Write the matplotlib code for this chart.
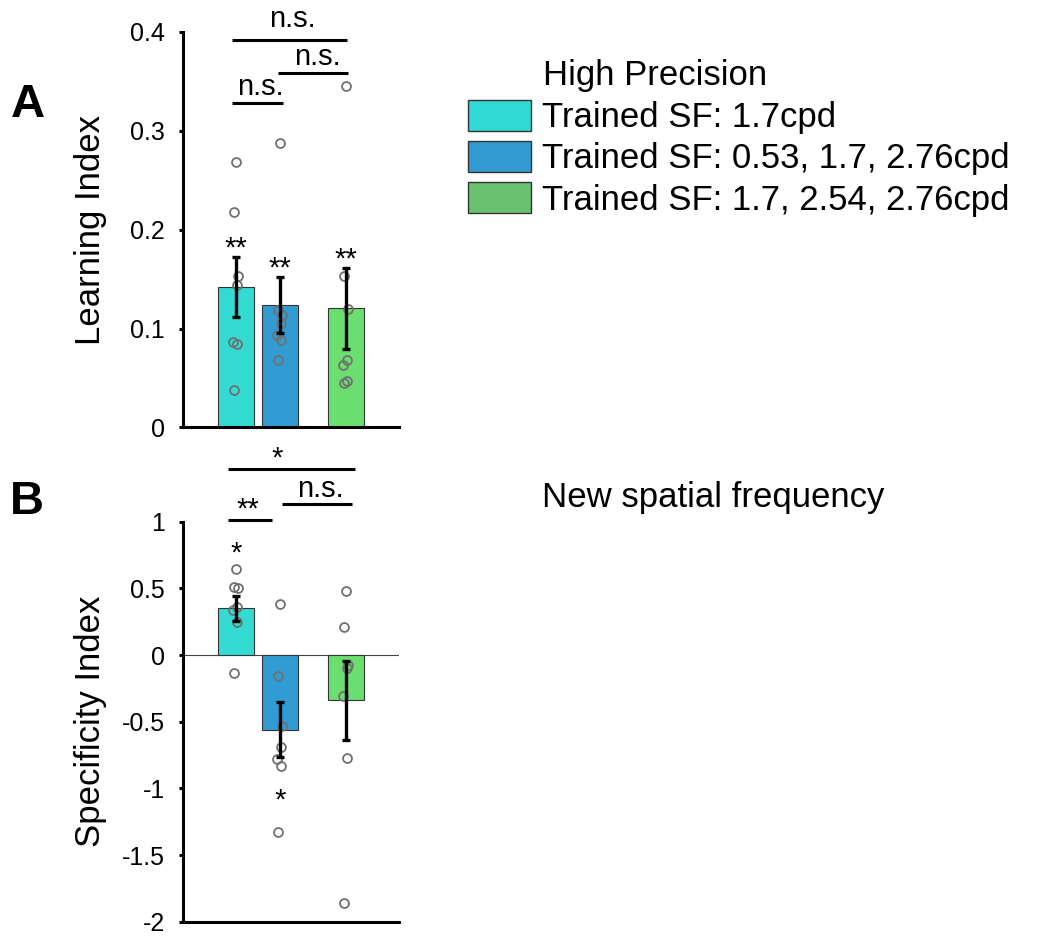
import matplotlib
matplotlib.use("Agg")
import matplotlib.pyplot as plt
from matplotlib.patches import Patch

plt.rcParams["font.family"] = ["Liberation Sans", "DejaVu Sans"]
plt.rcParams["axes.unicode_minus"] = False

# ---- data -------------------------------------------------------------
groups = ["Trained SF: 1.7cpd",
          "Trained SF: 0.53, 1.7, 2.76cpd",
          "Trained SF: 1.7, 2.54, 2.76cpd"]
bar_colors = ["#33dbd3", "#319cd3", "#6adf70"]
legend_colors = ["#30d9d3", "#3399d1", "#67c16f"]

# Learning index (panel A)
learn_mean = [0.142, 0.124, 0.1205]
learn_sem = [0.0305, 0.0283, 0.0408]
learn_pts = [
    [0.269, 0.2175, 0.1535, 0.1444, 0.0862, 0.0848, 0.0377],
    [0.288, 0.119, 0.114, 0.106, 0.094, 0.089, 0.068],
    [0.3458, 0.1535, 0.120, 0.0687, 0.0636, 0.0468, 0.0451],
]
learn_ticks = [0, 0.1, 0.2, 0.3, 0.4]
learn_ticklabels = ["0", "0.1", "0.2", "0.3", "0.4"]

# Specificity index (panel B)
spec_mean = [0.35, -0.56, -0.34]
spec_sem = [0.096, 0.205, 0.296]
spec_pts = [
    [0.645, 0.512, 0.505, 0.362, 0.34, 0.25, -0.137],
    [0.38, -0.155, -0.5325, -0.6925, -0.7825, -0.8325, -1.325],
    [0.48, 0.2125, -0.075, -0.095, -0.3075, -0.77, -1.8575],
]
spec_ticks = [-2, -1.5, -1, -0.5, 0, 0.5, 1]
spec_ticklabels = ["-2", "-1.5", "-1", "-0.5", "0", "0.5", "1"]

# ---- layout / style ---------------------------------------------------
W, H = 1048, 936
xpos = [1, 2, 3.5]
jitter = [0.0, -0.04, 0.04, 0.02, -0.06, 0.02, -0.04]
XLIM = (-0.2045, 4.705)
FS_TEXT = 25
FS_TICK = 18
FS_SIG = 21
FS_LETTER = 34
SPINE_LW = 2.2

fig = plt.figure(figsize=(W / 100, H / 100), dpi=100)
axA = fig.add_axes([183 / W, 1 - 427.5 / H, 216 / W, 395.5 / H])
axB = fig.add_axes([183 / W, 1 - 921.7 / H, 216 / W, 400 / H])


def style_axis(ax, ticks, labels, ylim):
    ax.set_xlim(*XLIM)
    ax.set_ylim(*ylim)
    for s in ("top", "right"):
        ax.spines[s].set_visible(False)
    for s in ("left", "bottom"):
        ax.spines[s].set_linewidth(SPINE_LW)
    ax.set_xticks([])
    ax.set_yticks(ticks)
    ax.set_yticklabels(labels)
    ax.tick_params(axis="y", direction="out", length=3, width=SPINE_LW,
                   labelsize=FS_TICK, pad=10)


def draw_panel(ax, means, sems, pts):
    ax.bar(xpos, means, width=0.8, color=bar_colors, edgecolor="#333333",
           linewidth=0.8, zorder=2)
    ax.errorbar(xpos, means, yerr=sems, fmt="none", ecolor="black",
                elinewidth=2.4, capsize=2.8, capthick=2.4, zorder=4)
    for x, vals in zip(xpos, pts):
        xs = [x + j for j in jitter[:len(vals)]]
        ax.plot(xs, vals, "o", ms=6.4, mfc="none", mec="#707070", mew=1.3,
                zorder=3)


def bracket(ax, x0, x1, y, label, tx, dy):
    ax.plot([x0, x1], [y, y], color="black", lw=2.2, clip_on=False,
            solid_capstyle="butt")
    ax.text(tx, y + dy, label, ha="center", va="baseline", fontsize=FS_SIG,
            clip_on=False)


# Panel A
style_axis(axA, learn_ticks, learn_ticklabels, (0, 0.4))
draw_panel(axA, learn_mean, learn_sem, learn_pts)
for x, m, s in zip(xpos, learn_mean, learn_sem):
    axA.text(x, m + s, "**", ha="center", va="baseline", fontsize=FS_SIG)
bracket(axA, 0.9, 3.52, 0.392, "n.s.", 2.28, 0.0128)
bracket(axA, 1.955, 3.545, 0.3588, "n.s.", 2.86, 0.0075)
bracket(axA, 0.9, 2.07, 0.3285, "n.s.", 1.55, 0.0075)
axA.set_ylabel("Learning Index", fontsize=FS_TEXT)
axA.yaxis.set_label_coords(-0.35, 0.5)

# Panel B
style_axis(axB, spec_ticks, spec_ticklabels, (-2, 1))
axB.axhline(0, color="#444444", lw=0.8, zorder=1)
draw_panel(axB, spec_mean, spec_sem, spec_pts)
axB.text(1, 0.70, "*", ha="center", va="baseline", fontsize=FS_SIG)
axB.text(2, -1.15, "*", ha="center", va="baseline", fontsize=FS_SIG)
bracket(axB, 0.825, 3.70, 1.393, "*", 1.93, 0.02)
bracket(axB, 2.04, 3.63, 1.130, "n.s.", 2.91, 0.057)
bracket(axB, 0.825, 1.81, 1.0125, "**", 1.27, 0.02)
axB.set_ylabel("Specificity Index", fontsize=FS_TEXT)
axB.yaxis.set_label_coords(-0.35, 0.5)

# Panel letters
fig.text(28 / W, 1 - 105 / H, "A", fontsize=FS_LETTER, fontweight="bold",
         ha="center", va="center")
fig.text(27 / W, 1 - 502 / H, "B", fontsize=FS_LETTER, fontweight="bold",
         ha="center", va="center")

# Legend and captions
fig.text(543 / W, 1 - 85 / H, "High Precision", fontsize=FS_TEXT,
         ha="left", va="baseline")
handles = [Patch(facecolor=c, edgecolor="#333333", linewidth=1.0)
           for c in legend_colors]
fig.legend(handles, groups, loc="upper left",
           bbox_to_anchor=(468 / W, 1 - 99.6 / H), frameon=False,
           fontsize=FS_TEXT, handlelength=1.82, handleheight=1.0,
           handletextpad=0.3, labelspacing=0.2, borderpad=0,
           borderaxespad=0)
fig.text(542 / W, 1 - 506.7 / H, "New spatial frequency", fontsize=FS_TEXT,
         ha="left", va="baseline")

fig.savefig("out.png", dpi=100, facecolor="white")
